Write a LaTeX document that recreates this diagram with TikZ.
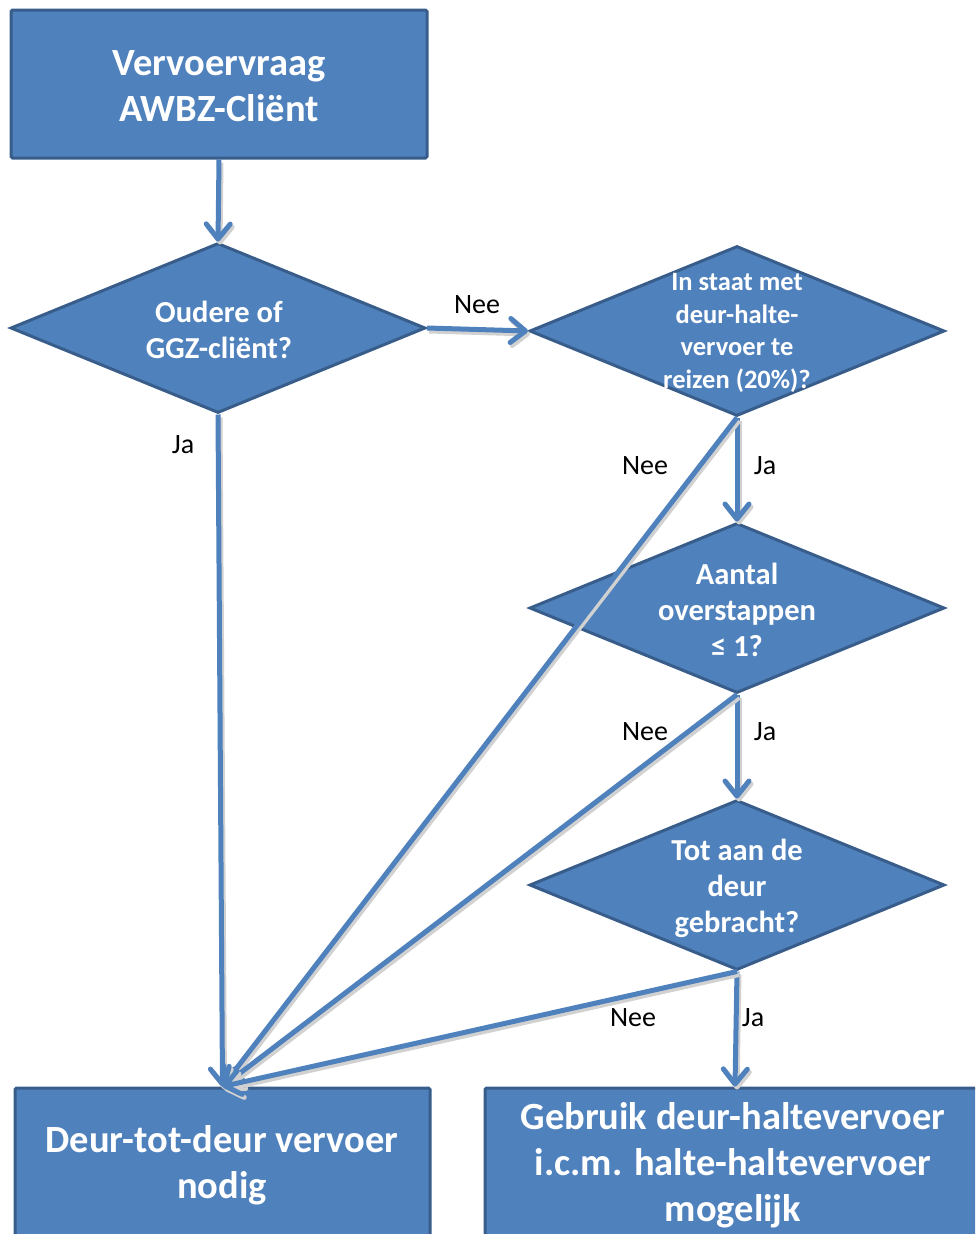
\documentclass[tikz,border=0pt]{standalone}
\usepackage{fontspec}
\setmainfont{Carlito}
\usetikzlibrary{shapes.geometric,arrows.meta}
\definecolor{fillblue}{HTML}{4F81BD}
\definecolor{edgeblue}{HTML}{385D8A}
\begin{document}
\begin{tikzpicture}[x=1pt,y=-1pt,
  box/.style={rectangle,draw=edgeblue,fill=fillblue,line width=3pt,rounded corners=1.5pt,inner sep=0pt},
  dia/.style={diamond,draw=edgeblue,fill=fillblue,line width=3pt,inner sep=0pt,
    minimum width=415pt,minimum height=170pt},
  txt/.style={text=white,align=center,inner sep=0pt},
  big/.style={font=\fontsize{38.5}{46}\bfseries},
  mid/.style={font=\fontsize{30.5}{36}\bfseries},
  small/.style={font=\fontsize{26.5}{32.7}\bfseries},
  lbl/.style={font=\fontsize{28}{28}\selectfont,inner sep=0pt},
  flow/.style={draw=fillblue,line width=5pt,
    -{Straight Barb[length=15pt,width=24pt,round]},
    preaction={draw=black!18,line width=5pt,transform canvas={shift={(2,3)}}}}]
\useasboundingbox (0,0) rectangle (975,1234);
\clip (0,0) rectangle (975,1234);

% boxes
\node[box,minimum width=416pt,minimum height=148pt] (start) at (219,84) {};
\node[box,minimum width=415pt,minimum height=220pt] (door) at (222.5,1198) {};
\node[box,minimum width=500pt,minimum height=220pt] (stop) at (735,1198) {};

% decisions
\node[dia] (q1) at (218,328) {};
\node[dia] (q2) at (737,331) {};
\node[dia] (q3) at (737,608) {};
\node[dia] (q4) at (737,885) {};

% connectors
\draw[flow] (start.south) -- (q1.north);
\draw[flow] (q1.east) -- (q2.west);
\draw[flow] (q1.south) -- (door.north);
\draw[flow] (q2.south) -- (q3.north);
\draw[flow] (q2.south) -- (door.north);
\draw[flow] (q3.south) -- (q4.north);
\draw[flow] (q3.south) -- (door.north);
\draw[flow] (q4.south) -- (stop.north);
\draw[flow] (q4.south) -- (door.north);

% texts
\node[txt,big] (startT) at (219,86) {Vervoervraag\\AWBZ-Cliënt};
\node[txt,mid] (q1T) at (219,330) {Oudere of\\GGZ-cliënt?};
\node[txt,small] (q2T) at (737,333) {In staat met\\deur-halte-\\vervoer te\\reizen (20\%)?};
\node[txt,mid] (q3T) at (737,610) {Aantal\\overstappen\\≤ 1?};
\node[txt,mid] (q4T) at (737,888) {Tot aan de\\deur\\gebracht?};
\node[txt,big] (doorT) at (222,1165) {Deur-tot-deur vervoer\\nodig};
\node[txt,big] (stopT) at (733,1165) {Gebruik deur-haltevervoer\\i.c.m. halte-haltevervoer\\mogelijk};

% branch labels
\node[lbl] (l1) at (477,305) {Nee};
\node[lbl] (l2) at (183,445) {Ja};
\node[lbl] (l3) at (645,466) {Nee};
\node[lbl] (l4) at (765,466) {Ja};
\node[lbl] (l5) at (645,732) {Nee};
\node[lbl] (l6) at (765,732) {Ja};
\node[lbl] (l7) at (633,1018) {Nee};
\node[lbl] (l8) at (753,1018) {Ja};
\end{tikzpicture}
\end{document}
